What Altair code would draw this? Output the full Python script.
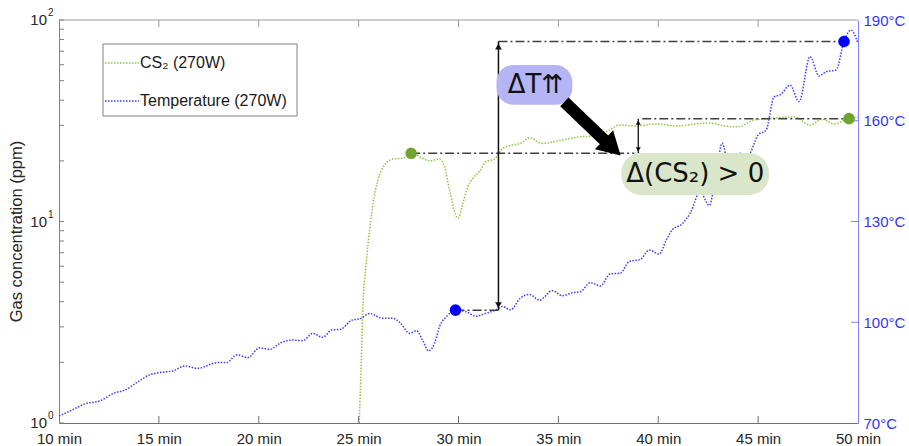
import altair as alt
import pandas as pd

FONT = "Liberation Sans"
BFONT = "DejaVu Sans"

# ---- data ----
temp_t = [10.0, 10.6, 11.3, 12.05, 12.8, 13.3, 13.95, 14.6, 15.15, 15.7, 16.3, 16.95,
          17.95, 18.4, 18.9, 19.45, 20.05, 20.55, 21.1, 21.7, 22.2, 22.7, 23.2, 23.65,
          24.1, 24.65, 25.1, 25.55, 26.2, 26.7, 27.1, 27.55, 27.9, 28.2, 28.5, 28.8,
          29.05, 29.4, 29.85, 30.4, 30.85, 31.4, 31.97, 32.2, 32.6, 33.1, 33.55, 34.05,
          34.7, 35.2, 35.7, 36.1, 36.6, 37.1, 37.6, 38.1, 38.55, 39.1, 39.55, 40.05,
          40.4, 40.7, 41.2, 41.6, 42.1, 42.55, 42.9, 43.2, 43.55, 44.05, 44.5, 45.0,
          45.4, 45.8, 46.1, 46.6, 47.05, 47.6, 48.05, 48.4, 48.9, 49.3, 49.65, 50.0]
temp_v = [72.1, 73.7, 75.7, 76.6, 79.0, 79.8, 82.3, 84.5, 85.1, 85.5, 87.0, 86.3,
          88.0, 88.0, 90.3, 89.5, 92.4, 91.9, 93.9, 94.7, 94.5, 96.7, 95.5, 97.7,
          97.9, 100.6, 101.1, 102.6, 101.2, 101.2, 99.7, 96.7, 97.5, 94.7, 91.5, 93.7,
          98.7, 101.7, 103.6, 103.1, 101.8, 102.7, 103.9, 104.7, 103.7, 107.2, 108.3, 106.6,
          109.4, 107.9, 108.8, 109.1, 111.8, 110.8, 114.4, 114.6, 118.1, 118.7, 121.5, 120.3,
          124.5, 127.5, 129.3, 132.5, 138.8, 134.8, 144.4, 153.3, 146.4, 150.3, 149.8, 155.8,
          157.2, 167.1, 167.7, 170.6, 165.7, 179.1, 173.3, 174.6, 175.1, 183.6, 187.0, 183.0]

cs2_t = [25.03, 25.13, 25.2, 25.38, 25.55, 25.72, 25.97, 26.3, 26.72, 27.22, 27.63,
         28.2, 28.55, 29.05, 29.3, 29.55, 29.97, 30.22, 30.47, 30.72, 31.05, 31.38,
         31.8, 32.22, 32.72, 33.13, 33.55, 34.2, 35.2, 36.05, 36.9, 37.55, 38.05,
         38.9, 39.9, 40.9, 41.9, 42.55, 43.3, 44.0, 44.8, 45.7, 46.8, 47.6, 48.2,
         48.8, 49.55, 50.0]
cs2_v = [1.0, 1.98, 3.5, 6.2, 9.1, 12.3, 16.1, 19.1, 20.4, 20.6, 21.8,
         20.6, 20.0, 20.4, 18.7, 14.3, 10.4, 12.3, 14.9, 16.4, 17.7, 19.8,
         20.4, 23.1, 24.0, 24.5, 26.0, 24.4, 25.4, 26.3, 26.6, 28.4, 30.1,
         29.8, 30.5, 29.8, 30.5, 30.8, 29.8, 29.5, 31.9, 32.5, 33.1, 30.1, 32.2,
         30.5, 32.4, 32.8]

cs2_mark_t = [27.63, 49.55]
cs2_mark_v = [21.8, 32.4]
temp_mark_t = [29.85, 49.3]
temp_mark_v = [103.6, 183.6]

x_ticks = [10, 15, 20, 25, 30, 35, 40, 45, 50]
x_inner_ticks = [15, 20, 25, 30, 35, 40, 45]
temp_ticks = [70, 100, 130, 160, 190]
temp_inner_ticks = [100, 130, 160]
log_decades = [1, 10, 100]
log_exps = ["0", "1", "2"]
log_ticks = [1, 2, 3, 4, 5, 6, 7, 8, 9, 10, 20, 30, 40, 50, 60, 70, 80, 90, 100]

legend_labels = ["CS\u2082 (270W)", "Temperature (270W)"]
label_dT = "\u0394T\u21c8"
label_dCS2 = "\u0394(CS\u2082) > 0"

# annotation anchors (data units)
dT_t, dT_lo, dT_hi = 32.0, 103.6, 183.6
dC_t, dC_lo, dC_hi = 39.0, 21.8, 32.4

W, H = 799, 403
GREEN_LINE = "#8cc63f"
GREEN_DOT = "#6ea52e"
BLUE_LINE = "#3c3cff"
BLUE_DOT = "#0000ff"
AXBLUE = "#3333ff"
DASHDOT = [9, 3, 2, 3]

XS = alt.Scale(domain=[10, 50], nice=False, zero=False)
YL = alt.Scale(type="log", domain=[1, 100], nice=False)
YT = alt.Scale(domain=[70, 190], nice=False, zero=False)
X_AX = alt.Axis(values=x_ticks, labelExpr="datum.value + ' min'", ticks=False, tickSize=0,
                labelPadding=8, labelFont=FONT, labelFontSize=15, labelColor="#262626",
                labelBaseline="top",
                domainColor="#707070", labelFlush=False, labelOverlap=False, title=None,
                grid=False)


def X(f):
    return alt.X(f, type="quantitative", scale=XS, axis=X_AX)


def X2(f):
    return alt.X2(f)


def YLg(f, axis=None):
    return alt.Y(f, type="quantitative", scale=YL, axis=axis)


def YTp(f, axis=None):
    return alt.Y(f, type="quantitative", scale=YT, axis=axis)


one = pd.DataFrame({"a": [0]})
cs2_df = pd.DataFrame({"t": cs2_t, "v": cs2_v})
temp_df = pd.DataFrame({"t": temp_t, "v": temp_v})

layers = []

# green line with the left axis line
layers.append(alt.Chart(cs2_df).mark_line(color=GREEN_LINE, strokeWidth=1.5, strokeDash=[1.5, 1.5],
                                           interpolate="monotone").encode(
    x=X("t"),
    y=YLg("v", alt.Axis(orient="left", labels=False, ticks=False, tickSize=0, grid=False,
                        title=None, domainColor="#808080"))))

# blue line with the right axis
layers.append(alt.Chart(temp_df).mark_line(color=BLUE_LINE, strokeWidth=1.5, strokeDash=[1.5, 1.5],
                                            interpolate="monotone").encode(
    x=X("t"),
    y=YTp("v", alt.Axis(orient="right", values=temp_ticks, labelExpr="datum.value + '°C'",
                        ticks=False, tickSize=0, labelPadding=5, labelFont=FONT,
                        labelFontSize=15, labelColor=AXBLUE, domainColor="#7f7fff",
                        labelFlush=False, labelOverlap=False, grid=False, title=None))))

# top border
layers.append(alt.Chart(one).mark_rule(color="#9a9a9a", strokeWidth=1).encode(
    x=alt.value(0), x2=alt.value(W), y=alt.value(0)))

# inner ticks
xt = pd.DataFrame({"t": x_inner_ticks})
layers.append(alt.Chart(xt).mark_rule(color="#707070").encode(x=X("t"), y=alt.value(H), y2=alt.value(H - 7)))
layers.append(alt.Chart(xt).mark_rule(color="#9a9a9a").encode(x=X("t"), y=alt.value(0), y2=alt.value(7)))
lt = pd.DataFrame({"v": log_ticks})
layers.append(alt.Chart(lt).mark_rule(color="#808080").encode(y=YLg("v"), x=alt.value(0), x2=alt.value(5)))
tt = pd.DataFrame({"v": temp_inner_ticks})
layers.append(alt.Chart(tt).mark_rule(color="#7f7fff").encode(y=YTp("v"), x=alt.value(W), x2=alt.value(W - 7)))

# left decade labels 10^n
dec = pd.DataFrame({"v": log_decades, "e": log_exps, "b": ["10"] * 3})
layers.append(alt.Chart(dec).mark_text(align="right", baseline="middle", font=FONT, fontSize=15,
                                        color="#262626", dy=0).encode(
    y=YLg("v"), x=alt.value(-12), text="b:N"))
layers.append(alt.Chart(dec).mark_text(align="left", baseline="middle", font=FONT, fontSize=10,
                                        color="#262626", dy=-7).encode(
    y=YLg("v"), x=alt.value(-11), text="e:N"))

# left axis title
layers.append(alt.Chart(one).mark_text(angle=270, font=FONT, fontSize=16.5, color="#262626",
                                        baseline="middle", align="center").encode(
    x=alt.value(-42), y=alt.value(H / 2 + 10), text=alt.value("Gas concentration (ppm)")))

# dash-dot guide lines
tl = pd.DataFrame({"t1": [temp_mark_t[0], dT_t], "t2": [dT_t, temp_mark_t[1]],
                   "v": [dT_lo, dT_hi]})
layers.append(alt.Chart(tl).mark_rule(color="#404040", strokeWidth=1.5, strokeDash=DASHDOT).encode(
    x=X("t1"), x2=X2("t2"), y=YTp("v")))
cl = pd.DataFrame({"t1": [cs2_mark_t[0], dC_t + 0.2], "t2": [dC_t - 0.2, cs2_mark_t[1]],
                   "v": [dC_lo, dC_hi]})
layers.append(alt.Chart(cl).mark_rule(color="#404040", strokeWidth=1.5, strokeDash=DASHDOT).encode(
    x=X("t1"), x2=X2("t2"), y=YLg("v")))

# big vertical double arrow (temperature)
va = pd.DataFrame({"t": [dT_t], "v1": [dT_lo], "v2": [dT_hi]})
layers.append(alt.Chart(va).mark_rule(color="#111111", strokeWidth=1.5).encode(
    x=X("t"), y=YTp("v1"), y2=alt.Y2("v2")))
layers.append(alt.Chart(pd.DataFrame({"t": [dT_t], "v": [dT_hi]})).mark_point(
    shape="triangle-up", filled=True, color="#111111", size=45, opacity=1, yOffset=5).encode(
    x=X("t"), y=YTp("v")))
layers.append(alt.Chart(pd.DataFrame({"t": [dT_t], "v": [dT_lo]})).mark_point(
    shape="triangle-down", filled=True, color="#111111", size=45, opacity=1, yOffset=-5).encode(
    x=X("t"), y=YTp("v")))

# small double arrow (CS2)
sa = pd.DataFrame({"t": [dC_t], "v1": [dC_lo], "v2": [dC_hi]})
layers.append(alt.Chart(sa).mark_rule(color="#111111", strokeWidth=1.3).encode(
    x=X("t"), y=YLg("v1"), y2=alt.Y2("v2")))
layers.append(alt.Chart(pd.DataFrame({"t": [dC_t], "v": [dC_hi]})).mark_point(
    shape="triangle-up", filled=True, color="#111111", size=25, opacity=1, yOffset=4).encode(
    x=X("t"), y=YLg("v")))
layers.append(alt.Chart(pd.DataFrame({"t": [dC_t], "v": [dC_lo]})).mark_point(
    shape="triangle-down", filled=True, color="#111111", size=25, opacity=1, yOffset=-4).encode(
    x=X("t"), y=YLg("v")))

# bubbles
b1 = pd.DataFrame({"t1": [31.9], "t2": [35.7], "v1": [164.8], "v2": [176.6]})
layers.append(alt.Chart(b1).mark_rect(color="#b5b5f5", cornerRadius=17).encode(
    x=X("t1"), x2=X2("t2"), y=YTp("v1"), y2=alt.Y2("v2")))
b2 = pd.DataFrame({"t1": [38.15], "t2": [45.55], "v1": [137.9], "v2": [150.4]})
layers.append(alt.Chart(b2).mark_rect(color="#d9e6c9", cornerRadius=20).encode(
    x=X("t1"), x2=X2("t2"), y=YTp("v1"), y2=alt.Y2("v2")))

# big thick arrow
ba = pd.DataFrame({"t1": [35.3], "t2": [37.55], "v1": [165.6], "v2": [152.8]})
layers.append(alt.Chart(ba).mark_rule(color="#000000", strokeWidth=12).encode(
    x=X("t1"), x2=X2("t2"), y=YTp("v1"), y2=alt.Y2("v2")))
layers.append(alt.Chart(pd.DataFrame({"t": [37.7], "v": [152.0]})).mark_point(
    shape="triangle-up", filled=True, color="#000000", size=700, opacity=1, angle=133.5).encode(
    x=X("t"), y=YTp("v")))

# bubble texts
bt = pd.DataFrame({"t": [33.85, 41.85], "v": [170.7, 144.1], "s": [label_dT, label_dCS2]})
layers.append(alt.Chart(bt).mark_text(font=BFONT, fontSize=26, color="#111111",
                                       align="center", baseline="middle").encode(
    x=X("t"), y=YTp("v"), text="s:N"))

# markers
layers.append(alt.Chart(pd.DataFrame({"t": cs2_mark_t, "v": cs2_mark_v})).mark_circle(
    color=GREEN_DOT, size=135, opacity=1).encode(x=X("t"), y=YLg("v")))
layers.append(alt.Chart(pd.DataFrame({"t": temp_mark_t, "v": temp_mark_v})).mark_circle(
    color=BLUE_DOT, size=135, opacity=1).encode(x=X("t"), y=YTp("v")))

# legend (drawn)
layers.append(alt.Chart(one).mark_rect(fill="white", stroke="#808080", strokeWidth=1).encode(
    x=alt.value(44), x2=alt.value(238), y=alt.value(24), y2=alt.value(96)))
leg = pd.DataFrame({"label": legend_labels, "c": [GREEN_LINE, BLUE_LINE], "yy": [43, 81]})
layers.append(alt.Chart(leg).mark_rule(strokeWidth=1.5, strokeDash=[1.5, 1.5]).encode(
    x=alt.value(46), x2=alt.value(80), y=alt.Y("yy:Q", scale=None, axis=None),
    color=alt.Color("c:N", scale=None, legend=None)))
layers.append(alt.Chart(leg).mark_text(align="left", baseline="middle", font=FONT, fontSize=16,
                                        color="#1a1a1a").encode(
    x=alt.value(81), y=alt.Y("yy:Q", scale=None, axis=None), text="label:N"))

chart = alt.layer(*layers).resolve_scale(y="independent").properties(
    width=W, height=H,
    autosize=alt.AutoSizeParams(type="none"),
    padding={"left": 59, "top": 20, "right": 51, "bottom": 23},
    background="white",
).configure_view(stroke=None)

chart.save("out.html", embed_options={"renderer": "svg", "actions": False})
